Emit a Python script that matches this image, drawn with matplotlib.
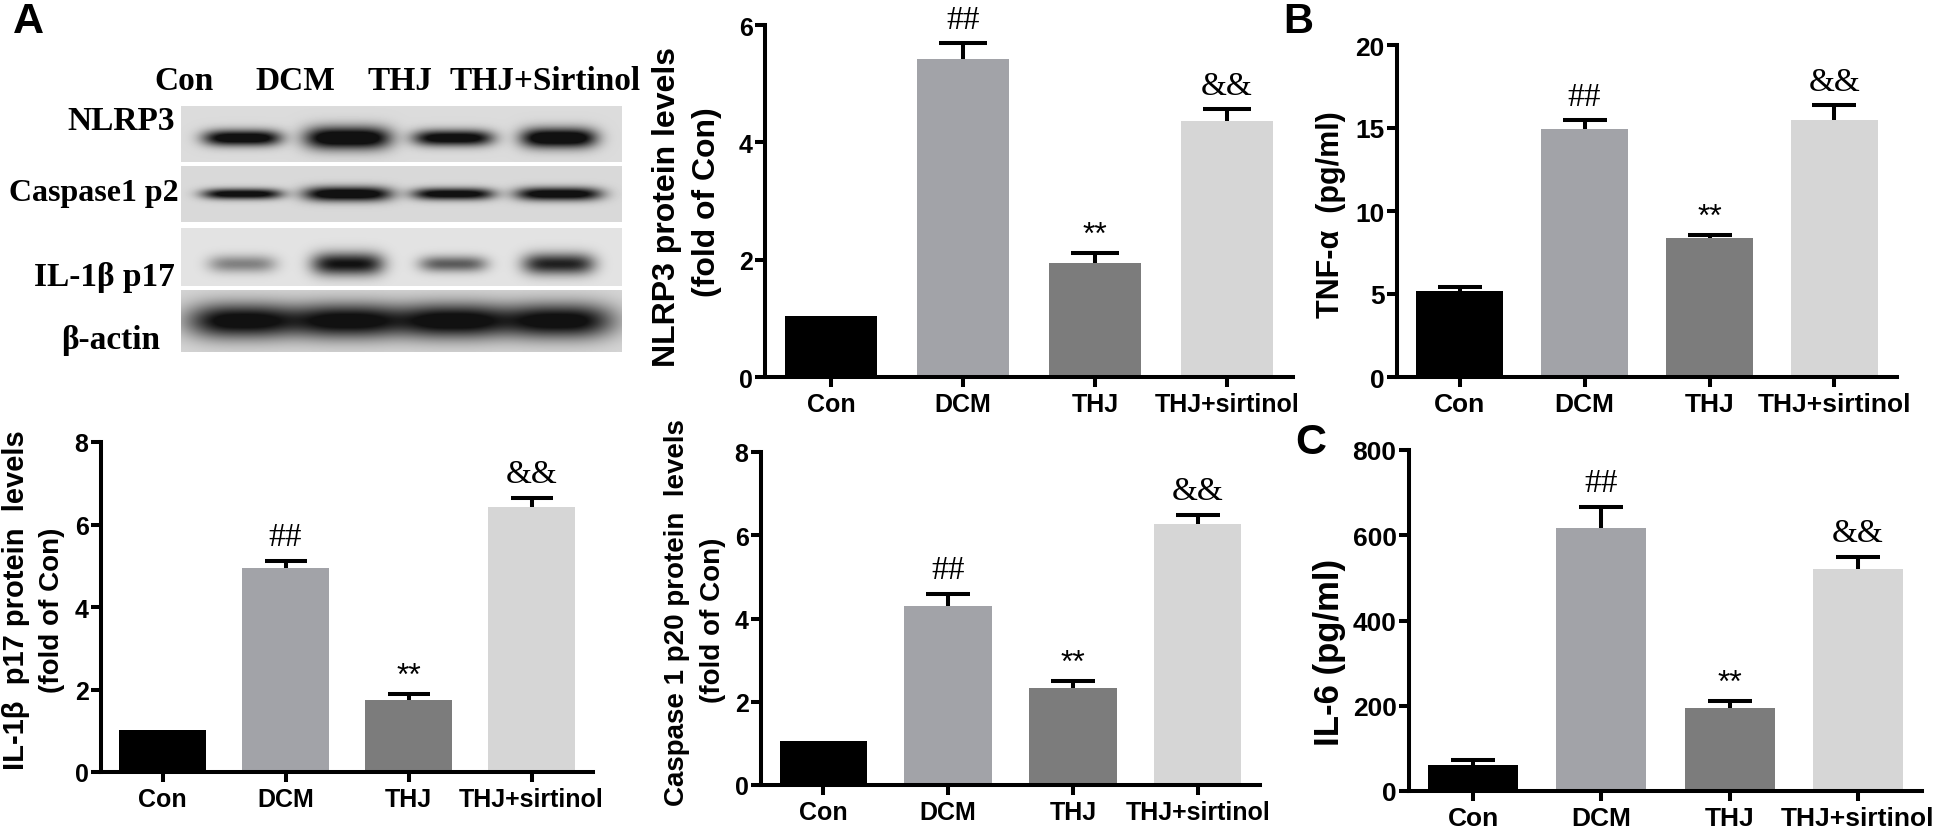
import numpy as np
import matplotlib
matplotlib.use("Agg")
import matplotlib.pyplot as plt

W, H, DPI = 1941, 828, 100

# ---------------- data ----------------
groups = ["Con", "DCM", "THJ", "THJ+sirtinol"]
blot_lanes = ["Con", "DCM", "THJ", "THJ+Sirtinol"]
blot_rows = ["NLRP3", "Caspase1 p2", "IL-1β p17", "β-actin"]

nlrp3_mean = [1.04, 5.42, 1.94, 4.36]
nlrp3_sem = [0.0, 0.27, 0.17, 0.21]

il1b_mean = [1.03, 4.95, 1.75, 6.42]
il1b_sem = [0.0, 0.17, 0.14, 0.23]

casp_mean = [1.05, 4.29, 2.34, 6.27]
casp_sem = [0.0, 0.31, 0.16, 0.22]

tnf_mean = [5.16, 14.95, 8.37, 15.49]
tnf_sem = [0.24, 0.54, 0.16, 0.90]

il6_mean = [62, 617, 194, 520]
il6_sem = [10, 50, 18, 30]

marks = ["", "##", "**", "&&"]

# relative band densities read from the blot (0..1)
band_nlrp3 = [0.95, 1.0, 0.92, 1.0]
band_casp = [0.9, 0.97, 0.9, 0.93]
band_il1b = [0.36, 0.78, 0.5, 0.72]
band_actin = [0.88, 0.88, 0.9, 0.88]

# ---------------- style ----------------
plt.rcParams["font.family"] = ["Liberation Sans", "DejaVu Sans"]
plt.rcParams["font.weight"] = "bold"
bar_colors = ["#000000", "#a2a3a8", "#7c7c7c", "#d6d6d6"]
SERIF = ["Liberation Serif", "DejaVu Serif"]

fig = plt.figure(figsize=(W / DPI, H / DPI), dpi=DPI)
fig.patch.set_facecolor("white")


def px_axes(x0, y0, x1, y1):
    return fig.add_axes([x0 / W, 1 - y1 / H, (x1 - x0) / W, (y1 - y0) / H])


def ftext(x, y, s, **kw):
    fig.text(x / W, 1 - y / H, s, **kw)


def bar_panel(rect, means, sems, ymax, ystep, capsize=16, ticksize=18):
    ax = px_axes(*rect)
    x = np.arange(len(groups))
    ax.bar(x, means, width=0.7, color=bar_colors, zorder=2)
    for xi, m, s in zip(x, means, sems):
        if s > 0:
            _, caps, _ = ax.errorbar(xi, m, yerr=[[0], [s]], color="black", lw=2.9,
                                     capsize=capsize, capthick=2.9, zorder=3)
            caps[0].set_visible(False)
    ax.set_xlim(-0.5, 3.5)
    ax.set_ylim(0, ymax)
    ax.set_yticks(np.arange(0, ymax + ystep / 2, ystep))
    ax.set_xticks(x, groups)
    for sp in ["top", "right"]:
        ax.spines[sp].set_visible(False)
    for sp in ["left", "bottom"]:
        ax.spines[sp].set_linewidth(2.9)
        ax.spines[sp].set_capstyle("projecting")
    ax.tick_params(width=2.9, length=7, labelsize=ticksize, pad=2)
    ax.tick_params(axis="x", pad=4)
    for lbl in ax.get_xticklabels() + ax.get_yticklabels():
        lbl.set_fontweight("bold")
    ax.patch.set_alpha(0)
    for xi, m, s, mk in zip(x, means, sems, marks):
        if not mk:
            continue
        if mk == "**":
            ax.annotate(mk, (xi, m + s), xytext=(0, 13), textcoords="offset points",
                        ha="center", va="center", fontsize=23, fontweight="normal")
        else:
            ax.annotate(mk, (xi, m + s), xytext=(0, 17), textcoords="offset points",
                        ha="center", va="center", fontsize=24, fontweight="normal",
                        family=SERIF)
    return ax


# ---------------- western blot ----------------
BX0, BX1 = 181, 622
lane0, lane_sp = 242, 105.7
xl = -(lane0 - BX0) / lane_sp
xr = 3 + (BX1 - (lane0 + 3 * lane_sp)) / lane_sp


def blot_strip(y0, y1, bg, yc, half_w, thick, dens, power=4):
    ax = px_axes(BX0, y0, BX1, y1)
    h = y1 - y0
    xs = np.linspace(xl, xr, BX1 - BX0)
    ys = np.arange(h) + 0.5
    X, Y = np.meshgrid(xs, ys)
    inten = np.zeros_like(X)
    for i in range(4):
        inten += dens[i] * np.exp(-np.abs((X - i) / half_w[i]) ** power) * \
            np.exp(-((Y - yc) / (thick[i] / 1.5)) ** 2)
    img = bg - (bg - 0.07) * np.clip(inten * 1.3, 0, 1)
    ax.imshow(img, cmap="gray", vmin=0, vmax=1, extent=(xl, xr, h, 0),
              aspect="auto", interpolation="bilinear")
    ax.set_xlim(xl, xr)
    ax.set_ylim(h, 0)
    ax.axis("off")


blot_strip(107, 163, 0.86, 32, [0.37, 0.41, 0.38, 0.36], [12, 17, 12, 15], band_nlrp3)
blot_strip(167, 223, 0.85, 28, [0.38, 0.42, 0.39, 0.41], [8, 11, 9, 10], band_casp)
blot_strip(229, 287, 0.89, 36, [0.32, 0.34, 0.32, 0.34], [13, 17, 12, 16], band_il1b)
blot_strip(291, 353, 0.84, 31, [0.52, 0.52, 0.52, 0.52], [26, 26, 26, 26], band_actin, power=3)

ftext(13, 22, "A", fontsize=31, fontweight="bold", va="center", ha="left")
for cx, lab in zip([184, 295, 400, 545], blot_lanes):
    ftext(cx, 82, lab, fontsize=24, fontweight="bold", family=SERIF,
          ha="center", va="center")
ftext(175, 122, blot_rows[0], fontsize=24, fontweight="bold", family=SERIF, ha="right", va="center")
ftext(179, 193, blot_rows[1], fontsize=23, fontweight="bold", family=SERIF, ha="right", va="center")
ftext(175, 278, blot_rows[2], fontsize=24, fontweight="bold", family=SERIF, ha="right", va="center")
ftext(111, 340, blot_rows[3], fontsize=24, fontweight="bold", family=SERIF, ha="center", va="center")

# ---------------- bar panels ----------------
bar_panel((765, 26, 1293, 378), nlrp3_mean, nlrp3_sem, 6, 2, capsize=17)
ftext(667, 207, "NLRP3 protein levels", fontsize=23, rotation=90, ha="center", va="center")
ftext(707, 202, "(fold of Con)", fontsize=23, rotation=90, ha="center", va="center")

bar_panel((1397, 46, 1897, 378), tnf_mean, tnf_sem, 20, 5, capsize=15.5, ticksize=19)
ftext(1331, 215, "TNF-α  (pg/ml)", fontsize=22, rotation=90, ha="center", va="center")
ftext(1283, 22, "B", fontsize=30, ha="left", va="center")

bar_panel((101, 443, 593, 773), il1b_mean, il1b_sem, 8, 2, capsize=15)
ftext(16, 600, "IL-1β  p17 protein  levels", fontsize=21, rotation=90, ha="center", va="center")
ftext(52, 610, "(fold of Con)", fontsize=20, rotation=90, ha="center", va="center")

bar_panel((761, 453, 1260, 786), casp_mean, casp_sem, 8, 2, capsize=16)
ftext(677, 613, "Caspase 1 p20 protein  levels", fontsize=20, rotation=90, ha="center", va="center")
ftext(713, 620, "(fold of Con)", fontsize=20, rotation=90, ha="center", va="center")

bar_panel((1409, 451, 1922, 792), il6_mean, il6_sem, 800, 200, capsize=15.5, ticksize=19)
ftext(1329, 652, "IL-6 (pg/ml)", fontsize=25, rotation=90, ha="center", va="center")
ftext(1295, 443, "C", fontsize=31, ha="left", va="center")

fig.savefig("out.png", dpi=DPI)
